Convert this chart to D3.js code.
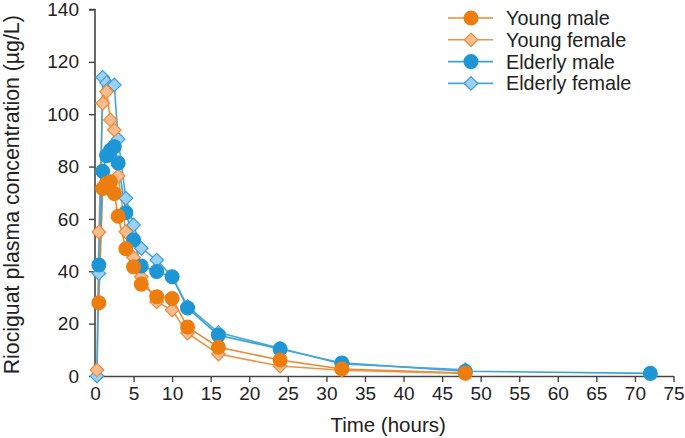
<!DOCTYPE html>
<html><head><meta charset="utf-8">
<script src="https://cdn.jsdelivr.net/npm/d3@7/dist/d3.min.js"></script>
<style>body{margin:0;background:#fff}svg{display:block}text{font-family:"Liberation Sans",Arial,Helvetica,sans-serif;fill:#222}</style>
</head><body><div id="c"></div>
<script>
const times = [0.25, 0.5, 1, 1.5, 2, 2.5, 3, 4, 5, 6, 8, 10, 12, 16, 24, 32, 48, 72];
const youngMale     = [null, 28, 71.6, 73.5, 74.2, 69.7, 61, 48.6, 41.7, 35.1, 30.3, 29.6, 18.7, 11, 6.1, 2.7, 1.1, null];
const youngFemale   = [2.3, 55, 104.2, 108.6, 97.8, 94, 76.4, 55.1, 45.3, 37.9, 28.3, 25.2, 16.4, 8.4, 3.8, 2.2, 1.0, null];
const elderlyMale   = [null, 42.4, 78.2, 84.2, 86.2, 87.6, 81.4, 62.4, 52, 42, 39.9, 37.9, 26, 15.6, 10.3, 5, 1.8, 1.0];
const elderlyFemale = [0, 39.2, 114.1, 112, 110.5, 111.2, 90.5, 67.9, 57.7, 48.8, 44.3, 38, 26.6, 16.6, 10.6, 4.6, 2.4, null];
const seriesNames = ["Young male", "Young female", "Elderly male", "Elderly female"];
const xTicks = d3.range(0, 76, 5);
const yTicks = d3.range(0, 141, 20);

const W = 685, H = 438;
const svg = d3.select("#c").append("svg").attr("width", W).attr("height", H);
const x = d3.scaleLinear().domain([0, 75]).range([95, 673.5]);
const y = d3.scaleLinear().domain([0, 140]).range([376, 9.5]);

const styles = [
  {line:"#E98A30", fill:"#EE7D10", stroke:"#EE7D10", shape:"circle"},
  {line:"#EE9246", fill:"#F9BC8E", stroke:"#EE8A3A", shape:"diamond"},
  {line:"#3AA2DA", fill:"#1E96D6", stroke:"#1E96D6", shape:"circle"},
  {line:"#47A6DC", fill:"#9DD0F2", stroke:"#3C9FD9", shape:"diamond"}
];
const data = [youngMale, youngFemale, elderlyMale, elderlyFemale].map(v =>
  times.map((t, i) => ({t, v: v[i]})).filter(d => d.v != null));

// axes
const gx = svg.append("g").attr("transform", `translate(0,${y(0)})`)
  .call(d3.axisBottom(x).tickValues(xTicks).tickSize(6).tickPadding(5).tickSizeOuter(0));
const gy = svg.append("g").attr("transform", `translate(${x(0)},0)`)
  .call(d3.axisLeft(y).tickValues(yTicks).tickSize(6).tickPadding(10).tickSizeOuter(0));
[gx, gy].forEach(g => {
  g.select(".domain").attr("stroke", "#444").attr("stroke-width", 1.6);
  g.selectAll(".tick line").attr("stroke", "#444").attr("stroke-width", 1.4);
  g.selectAll(".tick text").attr("font-size", 19).attr("fill", "#222")
    .attr("font-family", "'Liberation Sans',Arial,sans-serif");
});
gy.select(".domain").attr("d", `M0,${y(0)}V${y(140)}H-6`);

svg.append("text").attr("x", x(38)).attr("y", 432).attr("text-anchor", "middle")
  .attr("font-size", 20.5).text("Time (hours)");
svg.append("text").attr("transform", `translate(19,${(y(0)+y(140))/2 + 2}) rotate(-90)`)
  .attr("text-anchor", "middle").attr("font-size", 21.3)
  .text("Riociguat plasma concentration (µg/L)");

const line = d3.line().x(d => x(d.t)).y(d => y(d.v));
data.forEach((d, i) => {
  svg.append("path").datum(d).attr("d", line).attr("fill", "none")
    .attr("stroke", styles[i].line).attr("stroke-width", 1.6);
});

const sym = {circle: d3.symbol().type(d3.symbolCircle).size(150),
             diamond: d3.symbol().type(d3.symbolSquare).size(92)};
function marker(g, s) {
  const p = g.append("path").attr("d", sym[s.shape]()).attr("fill", s.fill)
    .attr("stroke", s.stroke).attr("stroke-width", 1.2);
  if (s.shape === "diamond") p.attr("transform", "rotate(45)");
  return p;
}
[3, 1, 2, 0].forEach(i => {
  data[i].forEach(d => {
    const g = svg.append("g").attr("transform", `translate(${x(d.t)},${y(d.v)})`);
    marker(g, styles[i]);
  });
});

// legend
const leg = svg.append("g");
seriesNames.forEach((n, i) => {
  const yy = 18 + i * 21.8;
  leg.append("line").attr("x1", 448).attr("x2", 493).attr("y1", yy).attr("y2", yy)
    .attr("stroke", styles[i].line).attr("stroke-width", 1.6);
  const g = leg.append("g").attr("transform", `translate(471,${yy})`);
  marker(g, styles[i]);
  leg.append("text").attr("x", 506).attr("y", yy).attr("dy", "0.35em")
    .attr("font-size", 19.8).text(n);
});
</script></body></html>
